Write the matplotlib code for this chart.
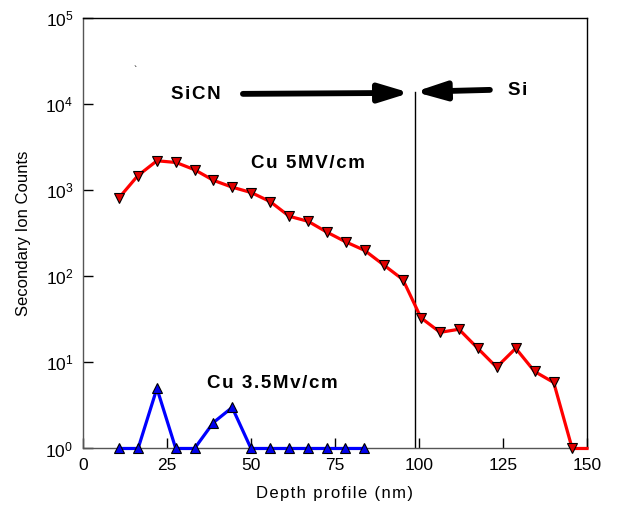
import numpy as np
import matplotlib
matplotlib.use("Agg")
import matplotlib.pyplot as plt
from matplotlib.ticker import FixedLocator, FuncFormatter

plt.rcParams['font.family'] = ['Liberation Sans', 'DejaVu Sans']

# SIMS depth profiles of Cu after bias stress
depth_5mv = [10.8, 16.3, 22.0, 27.7, 33.2, 38.8, 44.4, 50.1, 55.7, 61.4, 67.0, 72.6,
             78.2, 83.8, 89.6, 95.2, 100.6, 106.3, 111.9, 117.5, 123.1, 128.8,
             134.4, 140.1, 145.6, 150.0]
counts_5mv = [826, 1480, 2210, 2110, 1740, 1310, 1090, 943, 741, 500, 437, 327,
              252, 201, 135, 92, 33, 22.4, 24.3, 14.6, 8.8, 14.6, 7.85, 5.85, 1, 1]

depth_35mv = [10.8, 16.4, 22.0, 27.6, 33.2, 38.8, 44.4, 50.0, 55.6, 61.2, 66.9,
              72.5, 78.1, 83.7]
counts_35mv = [1, 1, 5, 1, 1, 2, 3, 1, 1, 1, 1, 1, 1, 1]

x_ticks = [0, 25, 50, 75, 100, 125, 150]
y_ticks = [1, 10, 100, 1000, 10000, 100000]

interface_depth = 98.9


def spaced(s):
    # open up the letter spacing a little
    return '\u200a'.join(s)


fig = plt.figure(figsize=(6.18, 5.09), dpi=100)
ax = fig.add_axes([0.1343, 0.1189, 0.8155, 0.8451])

ax.plot(depth_5mv, counts_5mv, color='#ff0000', lw=2.3, marker='v', ms=7,
        mfc='#e00000', mec='black', mew=0.8, markevery=list(range(len(depth_5mv) - 1)),
        clip_on=False, zorder=3)
ax.plot(depth_35mv, counts_35mv, color='#0000ff', lw=2.3, marker='^', ms=7,
        mfc='#0000ee', mec='black', mew=0.8, clip_on=False, zorder=3)

ax.set_yscale('log')
ax.set_xlim(0, 150)
ax.set_ylim(1, 1e5)
ax.xaxis.set_major_locator(FixedLocator(x_ticks))
ax.yaxis.set_major_locator(FixedLocator(y_ticks))
ax.yaxis.set_minor_locator(FixedLocator([]))
ax.yaxis.set_major_formatter(FuncFormatter(
    lambda v, p: r'$\mathregular{10^{%d}}$' % int(round(np.log10(v)))))
ax.tick_params(direction='in', length=7, width=1, labelsize=12.5, pad=7,
               colors='black')
for s in ax.spines.values():
    s.set_linewidth(1.0)
ax.spines['left'].set_color('#555555')
ax.spines['bottom'].set_color('#555555')

ax.set_xlabel(spaced('Depth profile (nm)'), fontsize=12, labelpad=9)
ax.set_ylabel('Secondary Ion Counts', fontsize=12, labelpad=10)

# SiCN / Si interface
ax.plot([interface_depth, interface_depth], [1, 13970], color='black', lw=1.0)
arrow_kw = dict(arrowstyle='-|>,head_length=1.8,head_width=0.55', color='black',
                lw=4.2, shrinkA=0, shrinkB=0, capstyle='round')
ax.annotate('', xy=(97.3, 13610), xytext=(47.6, 13240), arrowprops=arrow_kw)
ax.annotate('', xy=(98.8, 13970), xytext=(121.1, 14730), arrowprops=arrow_kw)

bold = dict(fontsize=13.5, fontweight='bold', va='center', ha='left')
ax.text(26.2, 12900, spaced('SiCN'), **bold)
ax.text(126.5, 14350, spaced('Si'), **bold)
ax.text(49.9, 2060, spaced('Cu 5MV/cm'), **bold)
ax.text(36.8, 5.7, spaced('Cu 3.5Mv/cm'), **bold)
ax.text(14.9, 24500, '`', fontsize=7, ha='left', va='center')

fig.savefig('out.png', dpi=100)
